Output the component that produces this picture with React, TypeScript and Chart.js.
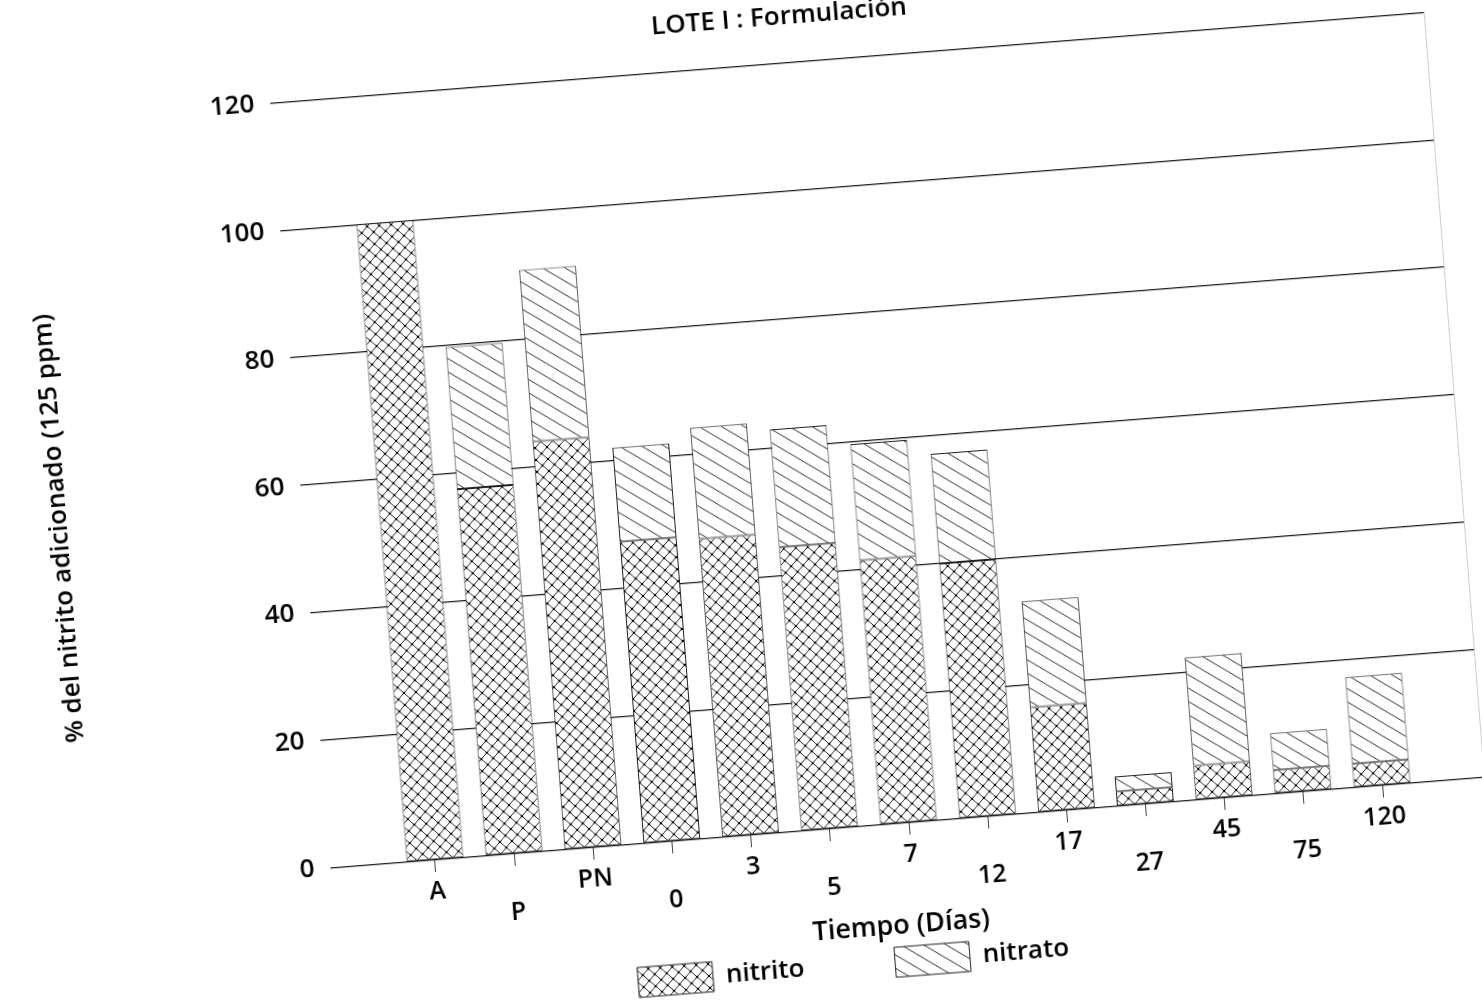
import React, { useEffect, useRef } from 'react';
import { Chart, registerables } from 'chart.js';

Chart.register(...registerables);

const categories = ['A', 'P', 'PN', '0', '3', '5', '7', '12', '17', '27', '45', '75', '120'];
const nitritoValues = [100, 57.5, 64, 47.3, 46.8, 44.5, 41.5, 40, 16.5, 2.3, 5.4, 3.7, 3.8];
const nitratoValues = [0, 22.3, 26.9, 14.8, 17.4, 18.5, 18.2, 17.2, 16.6, 2.4, 17, 5.8, 13.5];
const yTickValues = [0, 20, 40, 60, 80, 100, 120];
const seriesNames = ['nitrito', 'nitrato'];
const chartTitle = 'LOTE I : Formulación';
const xAxisTitle = 'Tiempo (Días)';
const yAxisTitle = '% del nitrito adicionado (125 ppm)';

const FONT = "'Open Sans', 'DejaVu Sans', sans-serif";

function makeCrossHatch(): CanvasPattern | string {
  const s = 12;
  const c = document.createElement('canvas');
  c.width = s;
  c.height = s;
  const g = c.getContext('2d');
  if (!g) return '#ccc';
  g.fillStyle = '#fff';
  g.fillRect(0, 0, s, s);
  g.strokeStyle = '#222';
  g.lineWidth = 1;
  g.beginPath();
  g.moveTo(0, 0);
  g.lineTo(s, s);
  g.moveTo(s, 0);
  g.lineTo(0, s);
  g.stroke();
  g.fillStyle = '#000';
  const pts = [[s / 2, s / 2], [0, 0], [s, 0], [0, s], [s, s]];
  for (const [px, py] of pts) {
    g.beginPath();
    g.arc(px, py, 1.3, 0, Math.PI * 2);
    g.fill();
  }
  const p = g.createPattern(c, 'repeat');
  return p || '#ccc';
}

function makeDiagonal(): CanvasPattern | string {
  const w = 20;
  const h = 14;
  const c = document.createElement('canvas');
  c.width = w;
  c.height = h;
  const g = c.getContext('2d');
  if (!g) return '#eee';
  g.fillStyle = '#fff';
  g.fillRect(0, 0, w, h);
  g.strokeStyle = '#2a2a2a';
  g.lineWidth = 1;
  g.beginPath();
  g.moveTo(-w, -h);
  g.lineTo(2 * w, 2 * h);
  g.moveTo(-w, 0);
  g.lineTo(w, 2 * h);
  g.moveTo(0, -h);
  g.lineTo(2 * w, h);
  g.stroke();
  const p = g.createPattern(c, 'repeat');
  return p || '#eee';
}

export default function App() {
  const ref = useRef<HTMLCanvasElement>(null);

  useEffect(() => {
    const canvas = ref.current;
    if (!canvas) return;
    const cross = makeCrossHatch();
    const diag = makeDiagonal();

    const chart = new Chart(canvas, {
      type: 'bar',
      data: {
        datasets: [
          {
            label: seriesNames[0],
            data: nitritoValues.map((v, i) => ({ x: i, y: v })),
            backgroundColor: cross as any,
            borderColor: '#222',
            borderWidth: 1,
            borderSkipped: false,
            barPercentage: 1,
            categoryPercentage: 0.72,
          },
          {
            label: seriesNames[1],
            data: nitratoValues.map((v, i) => ({ x: i, y: v })),
            backgroundColor: diag as any,
            borderColor: '#222',
            borderWidth: 1,
            borderSkipped: false,
            barPercentage: 1,
            categoryPercentage: 0.72,
          },
        ],
      } as any,
      options: {
        responsive: false,
        animation: false,
        devicePixelRatio: 1,
        events: [],
        layout: { padding: { left: 174, right: 22, top: 0, bottom: 7 } },
        plugins: {
          tooltip: { enabled: false },
          title: {
            display: true,
            text: chartTitle,
            color: '#000',
            font: { family: FONT, size: 26, weight: '600' as any },
            padding: { top: 6, bottom: 30 },
          },
          legend: {
            position: 'bottom',
            labels: {
              boxWidth: 75,
              boxHeight: 30,
              padding: 91,
              color: '#000',
              font: { family: FONT, size: 26, weight: '600' as any },
            },
          },
        },
        scales: {
          x: {
            type: 'linear',
            stacked: true,
            min: -1.326,
            max: 13.288,
            offset: false,
            afterBuildTicks: (s: any) => {
              s.ticks = s.ticks.filter(
                (t: any) => Number.isInteger(t.value) && t.value >= 0 && t.value < categories.length
              );
            },
            afterFit: (s: any) => {
              s.height = 32;
            },
            ticks: {
              stepSize: 1,
              maxTicksLimit: 40,
              includeBounds: false,
              autoSkip: false,
              maxRotation: 0,
              minRotation: 0,
              mirror: true,
              padding: -45.5,
              color: '#000',
              font: { family: FONT, size: 25, weight: '600' as any, lineHeight: 1.1 },
              callback: (v: any) => {
                const i = Math.round(Number(v));
                const lab = categories[i];
                if (lab === undefined) return '';
                return i % 2 === 0 ? lab : ['', lab];
              },
            },
            grid: {
              display: true,
              drawOnChartArea: false,
              drawTicks: true,
              tickLength: 12,
              color: '#444',
              lineWidth: 1,
              offset: false,
            },
            border: { display: false },
            title: {
              display: true,
              text: xAxisTitle + '    ',
              color: '#000',
              font: { family: FONT, size: 27, weight: '600' as any },
              padding: { top: 0, bottom: -87 },
            },
          },
          y: {
            type: 'linear',
            position: 'left',
            stacked: true,
            min: 0,
            max: 120,
            afterBuildTicks: (s: any) => {
              s.ticks = yTickValues.map((v) => ({ value: v }));
            },
            afterFit: (s: any) => {
              s.width = 129;
            },
            ticks: {
              stepSize: 20,
              padding: 16,
              color: '#000',
              font: { family: FONT, size: 26, weight: '600' as any },
            },
            grid: { color: '#1a1a1a', lineWidth: 1.3, drawTicks: false },
            border: { display: false },
            title: {
              display: true,
              text: yAxisTitle + '       ',
              color: '#000',
              font: { family: FONT, size: 26, weight: '600' as any },
              padding: { top: -129.6, bottom: 0 },
            },
          },
          y2: {
            type: 'linear',
            position: 'right',
            min: 0,
            max: 120,
            display: true,
            afterFit: (s: any) => {
              s.width = 0;
            },
            ticks: { display: false },
            grid: { display: true, drawOnChartArea: false, drawTicks: false },
            border: { display: true, color: '#cfcfcf', width: 1, dash: [1, 12] },
          },
        },
      } as any,
    });

    return () => {
      chart.destroy();
    };
  }, []);

  return (
    <div
      style={{
        position: 'fixed',
        left: 0,
        top: 0,
        width: 1482,
        height: 1005,
        overflow: 'hidden',
        background: '#fff',
      }}
    >
      <div
        style={{
          position: 'absolute',
          left: 0,
          top: 0,
          width: 1482,
          height: 1005,
          transform: 'rotate(-4.5deg)',
          transformOrigin: '741px 502.5px',
        }}
      >
        <canvas ref={ref} width={1482} height={1005} style={{ display: 'block', width: 1482, height: 1005 }} />
      </div>
    </div>
  );
}
